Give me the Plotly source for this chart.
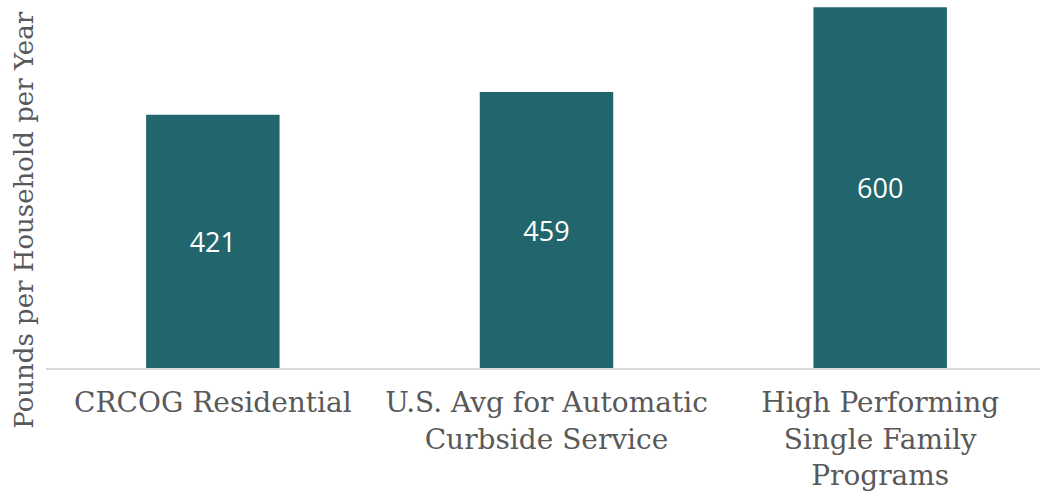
import plotly.graph_objects as go

# Recycling collected per household, by program type
categories = [
    "CRCOG Residential",
    "U.S. Avg for Automatic<br>Curbside Service",
    "High Performing<br>Single Family<br>Programs",
]
pounds = [421, 459, 600]
bar_labels = [str(v) for v in pounds]

BAR_COLOR = "#21666C"
TEXT_GRAY = "#595959"
SERIF = "DejaVu Serif, Georgia, serif"

fig = go.Figure(
    go.Bar(
        x=categories,
        y=pounds,
        text=bar_labels,
        textposition="inside",
        insidetextanchor="middle",
        textangle=0,
        textfont=dict(family="Open Sans, Noto Sans, sans-serif", size=27, color="white"),
        marker=dict(color=BAR_COLOR, line=dict(width=0)),
        hoverinfo="x+y",
    )
)

fig.update_layout(
    width=1040,
    height=495,
    margin=dict(l=46, r=0, t=0, b=127, autoexpand=False),
    paper_bgcolor="white",
    plot_bgcolor="white",
    bargap=0.6,
    showlegend=False,
    xaxis=dict(
        range=[-0.5, 2.479],
        automargin=False,
        showgrid=False,
        showline=True,
        linecolor="#D9D9D9",
        linewidth=1.5,
        ticks="",
        tickfont=dict(family=SERIF, size=28, color=TEXT_GRAY),
        ticklabelstandoff=9,
    ),
    yaxis=dict(
        range=[0, 612],
        automargin=False,
        showgrid=False,
        showticklabels=False,
        zeroline=False,
        ticks="",
    ),
    uniformtext=dict(mode=False),
    annotations=[
        dict(
            text="Pounds per Household per Year",
            textangle=-90,
            xref="paper",
            yref="paper",
            x=0,
            xshift=-22,
            y=0.4,
            xanchor="center",
            yanchor="middle",
            showarrow=False,
            font=dict(family=SERIF, size=26, color=TEXT_GRAY),
        )
    ],
)

fig.write_html("out.html")
